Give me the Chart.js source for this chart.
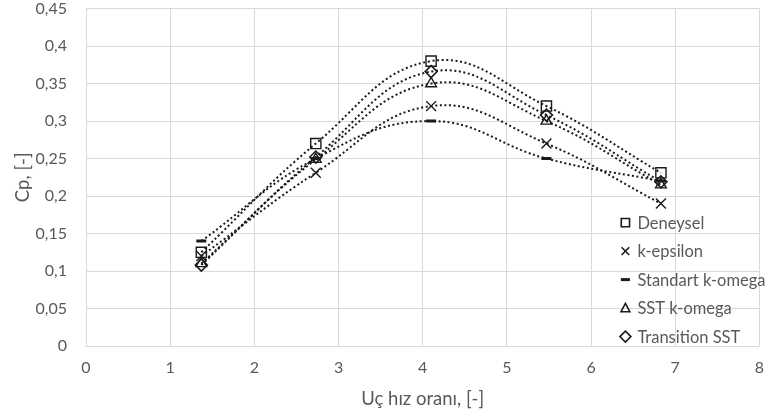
<!DOCTYPE html>
<html>
<head>
<meta charset="utf-8">
<script src="https://cdn.jsdelivr.net/npm/chart.js@4.4.0/dist/chart.umd.min.js"></script>
<style>
html,body{margin:0;padding:0;background:#fff;}
#wrap{width:768px;height:418px;position:relative;}
</style>
</head>
<body>
<div id="wrap"><canvas id="c" width="768" height="418"></canvas></div>
<script>
// ---- data ----
const tsr = [1.37, 2.73, 4.1, 5.47, 6.83];
const deneysel = [0.125, 0.27, 0.38, 0.32, 0.231];
const kEpsilon = [0.12, 0.231, 0.32, 0.27, 0.19];
const standartKOmega = [0.14, 0.25, 0.30, 0.25, 0.22];
const sstKOmega = [0.11, 0.249, 0.35, 0.30, 0.215];
const transitionSST = [0.108, 0.252, 0.366, 0.308, 0.219];
const seriesNames = ['Deneysel', 'k-epsilon', 'Standart k-omega', 'SST k-omega', 'Transition SST'];
const xTickLabels = ['0','1','2','3','4','5','6','7','8'];
const yTickLabels = ['0','0,05','0,1','0,15','0,2','0,25','0,3','0,35','0,4','0,45'];
const xTitle = 'Uç hız oranı, [-]';
const yTitle = 'Cp, [-]';

const styles = [
  {pointStyle:'rect', radius:7.2, bw:1.4},
  {pointStyle:'crossRot', radius:7, bw:1.4},
  {pointStyle:'line', radius:5, bw:3},
  {pointStyle:'triangle', radius:6.2, bw:1.4},
  {pointStyle:'rectRot', radius:6, bw:1.6}
];
const allSeries = [deneysel, kEpsilon, standartKOmega, sstKOmega, transitionSST];
const FONT = 'Lato, "Open Sans", sans-serif';
const GRAY = '#595959';

const datasets = allSeries.map((vals, i) => ({
  label: seriesNames[i],
  data: tsr.map((x, j) => ({x: x, y: vals[j]})),
  borderColor: '#1a1a1a',
  borderWidth: 2,
  borderDash: [2, 2.6],
  tension: 0.42,
  fill: false,
  pointStyle: styles[i].pointStyle,
  pointRadius: styles[i].radius,
  pointBorderWidth: styles[i].bw,
  pointBorderColor: '#1a1a1a',
  pointBackgroundColor: 'rgba(0,0,0,0)'
}));

function drawSymbol(ctx, style, r, bw, x, y) {
  ctx.save();
  ctx.strokeStyle = '#1a1a1a';
  ctx.lineWidth = bw;
  ctx.beginPath();
  if (style === 'rect') {
    ctx.rect(x - r*0.75, y - r*0.75, r*1.5, r*1.5);
  } else if (style === 'crossRot') {
    const d = r*0.7;
    ctx.moveTo(x-d, y-d); ctx.lineTo(x+d, y+d);
    ctx.moveTo(x+d, y-d); ctx.lineTo(x-d, y+d);
  } else if (style === 'line') {
    ctx.moveTo(x-r, y); ctx.lineTo(x+r, y);
  } else if (style === 'triangle') {
    ctx.moveTo(x, y-r*0.85); ctx.lineTo(x+r*0.8, y+r*0.65); ctx.lineTo(x-r*0.8, y+r*0.65); ctx.closePath();
  } else if (style === 'rectRot') {
    ctx.moveTo(x, y-r); ctx.lineTo(x+r, y); ctx.lineTo(x, y+r); ctx.lineTo(x-r, y); ctx.closePath();
  }
  ctx.stroke();
  ctx.restore();
}

const legendPlugin = {
  id: 'insideLegend',
  afterDraw(chart) {
    const ctx = chart.ctx;
    const ca = chart.chartArea;
    const x0 = ca.right - 134;
    const y0 = ca.top + 214;
    const step = 28.5;
    ctx.save();
    ctx.font = '16.5px ' + FONT;
    ctx.fillStyle = GRAY;
    ctx.textBaseline = 'middle';
    ctx.textAlign = 'left';
    seriesNames.forEach((name, i) => {
      const y = y0 + i*step;
      const s = styles[i];
      drawSymbol(ctx, s.pointStyle, s.pointStyle==='line'?4.5:5.5, s.pointStyle==='line'?3:1.6, x0, y);
      ctx.fillText(name, x0 + 12, y + 1);
    });
    ctx.restore();
  }
};

new Chart(document.getElementById('c'), {
  type: 'line',
  data: {datasets},
  plugins: [legendPlugin],
  options: {
    responsive: false,
    animation: false,
    layout: {padding: {top: 0, right: 0, left: 0, bottom: 0}},
    plugins: {legend: {display: false}, tooltip: {enabled: false}},
    scales: {
      x: {
        type: 'linear', min: 0, max: 8,
        ticks: {stepSize: 1, color: GRAY, font: {family: FONT, size: 16, lineHeight: 1}, padding: 0,
          callback: (v, i) => xTickLabels[i]},
        grid: {color: '#d9d9d9', lineWidth: 1, drawTicks: true, tickLength: 14, tickColor: 'rgba(0,0,0,0)'},
        border: {display: false},
        title: {display: true, text: xTitle, color: GRAY, font: {family: FONT, size: 18.5}, padding: {top: 8, bottom: 8}},
        afterFit(s) { s.height = 72; }
      },
      y: {
        type: 'linear', min: 0, max: 0.45,
        ticks: {stepSize: 0.05, color: GRAY, font: {family: FONT, size: 16, lineHeight: 0.8}, padding: 0,
          callback: (v, i) => yTickLabels[i]},
        grid: {color: '#d9d9d9', lineWidth: 1, drawTicks: true, tickLength: 19, tickColor: 'rgba(0,0,0,0)'},
        border: {display: false},
        title: {display: true, text: yTitle, color: GRAY, font: {family: FONT, size: 18.5}, padding: {top: 12, bottom: 4}},
        afterFit(s) { s.width = 86; }
      }
    }
  }
});
</script>
</body>
</html>
